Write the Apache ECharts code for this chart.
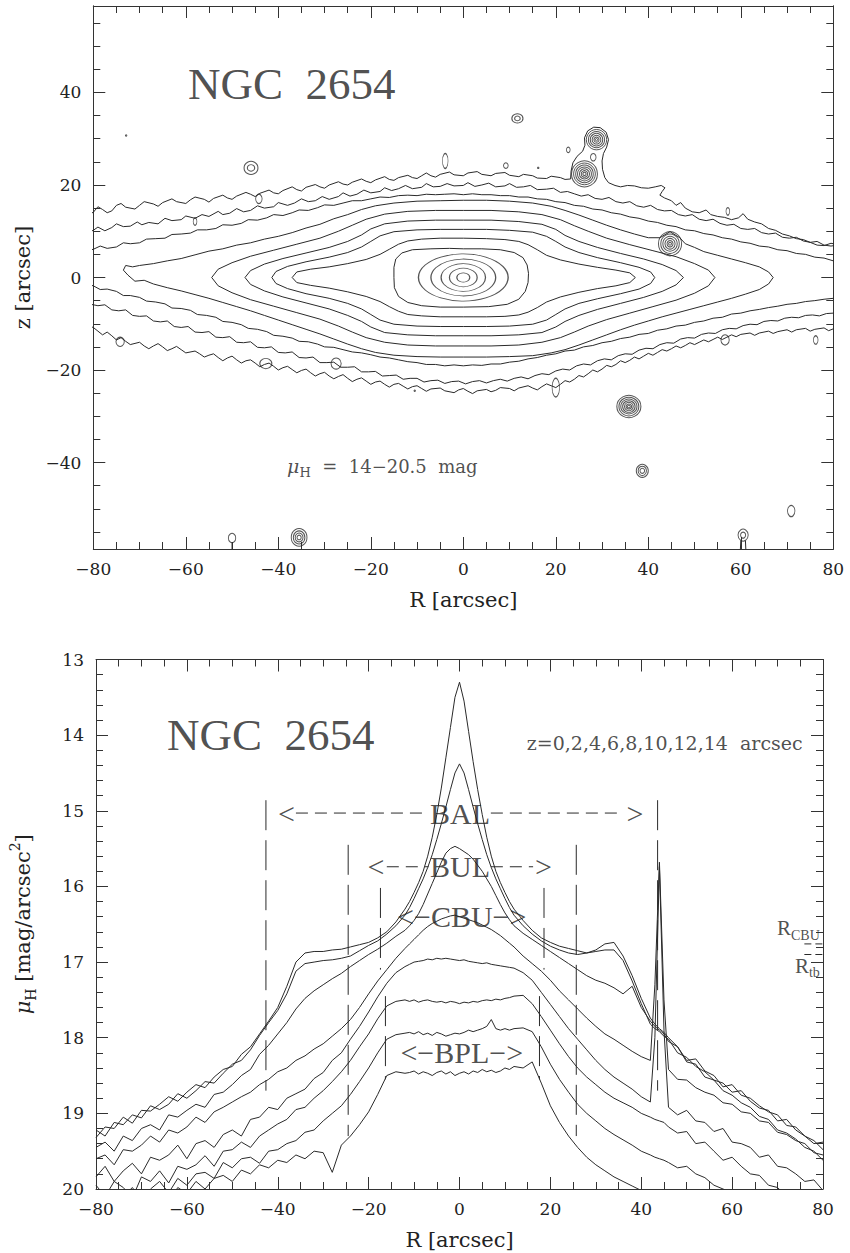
<!DOCTYPE html>
<html><head><meta charset="utf-8">
<script src="https://cdn.jsdelivr.net/npm/echarts@6/dist/echarts.min.js"></script>
<style>html,body{margin:0;padding:0;background:#fff}#c{width:850px;height:1253px}</style>
</head><body><div id="c"></div>
<script>
// ---------------- TOP PANEL: isophote contours (R, z in arcsec) ----------------
const zMajor = [-40,-20,0,20,40];
const zMinor = [-55,-50,-45,-35,-30,-25,-15,-10,-5,5,10,15,25,30,35,45,50,55];

// central rings and stars: [R, z, semi-axis R, semi-axis z]
const ringsCentral = [[0,0,1.4,1.0],[0,0,3.0,2.0],[0,0,4.8,3.0],[0,0,7.0,4.0],[0,0,9.7,5.1]];
const starRings = [
 [26.2,22.4,2.8,2.8],[26.2,22.4,2.35,2.35],[26.2,22.4,1.9,1.9],[26.2,22.4,1.5,1.5],[26.2,22.4,1.1,1.1],[26.2,22.4,0.7,0.7],[26.2,22.4,0.35,0.35],
 [28.8,29.8,2.2,2.2],[28.8,29.8,1.75,1.75],[28.8,29.8,1.35,1.35],[28.8,29.8,0.95,0.95],[28.8,29.8,0.55,0.55],[28.8,29.8,0.25,0.25],
 [28.1,26.0,0.6,0.8],
 [44.7,7.3,2.5,2.6],[44.7,7.3,2.0,2.1],[44.7,7.3,1.55,1.6],[44.7,7.3,1.1,1.15],[44.7,7.3,0.65,0.7],[44.7,7.3,0.3,0.3],
 [35.8,-27.9,2.6,2.4],[35.8,-27.9,2.15,2.0],[35.8,-27.9,1.75,1.6],[35.8,-27.9,1.35,1.25],[35.8,-27.9,0.95,0.9],[35.8,-27.9,0.6,0.55],[35.8,-27.9,0.3,0.3],
 [38.7,-41.8,1.3,1.4],[38.7,-41.8,0.9,1.0],[38.7,-41.8,0.5,0.55],
 [-35.5,-56.2,1.7,1.9],[-35.5,-56.2,1.25,1.4],[-35.5,-56.2,0.85,0.95],[-35.5,-56.2,0.45,0.5],
 [-50,-56.3,0.8,1.0],
 [60.5,-55.7,1.1,1.3],[60.5,-55.7,0.55,0.65],
 [70.9,-50.5,0.8,1.2],
 [-45.9,23.7,1.5,1.4],[-45.9,23.7,0.8,0.7],
 [11.7,34.4,1.2,1.0],[11.7,34.4,0.6,0.5],
 [-3.9,25.2,0.6,1.6],[9.2,24.2,0.5,0.6],[22.7,27.6,0.4,0.6],[57.2,14.3,0.4,0.8],[-44.2,17.0,0.7,1.0],
 [-58,12.1,0.4,0.8],[-74.2,-13.9,0.9,1.0],[-42.7,-18.6,1.3,1.1],[-27.5,-18.6,1.1,1.2],[20.0,-23.8,0.8,2.0],
 [56.6,-13.5,0.9,1.1],[76.2,-13.5,0.5,0.9],[-72.9,30.7,0.15,0.15],[16.2,23.7,0.15,0.15],[-10.5,-24.5,0.15,0.15]
];
const tailG = [[-50,-57.3],[-50,-59]];
const tailH1 = [[60.0,-56.9],[59.9,-59]];
const tailH2 = [[61.0,-56.9],[61.1,-59]];

const L165 = [[-15,0],[-15,2.2],[-14.6,4.0],[-13.3,5.3],[-11,6.0],[-7,6.2],[-3,6.3],[0,6.2],[4,6.2],[8,6.0],[11,5.4],[12.9,4.3],[13.8,2.7],[14.1,0.9],[14,-1.1],[13.4,-3.0],[12,-4.7],[9.5,-5.8],[5.5,-6.3],[0,-6.4],[-5,-6.4],[-9,-6.1],[-12,-5.4],[-14,-4.1],[-14.9,-2.2],[-15,0]];
const L170 = [[-37,0],[-36,1.2],[-33,1.8],[-29,2.3],[-25,3.0],[-21,3.9],[-18,5.0],[-16,6.1],[-14,7.2],[-12,7.9],[-9,8.3],[-5,8.5],[0,8.5],[5,8.4],[9,8.2],[12,7.8],[14,7.1],[16,6.0],[18,4.8],[21,3.8],[25,2.9],[29,2.2],[33,1.6],[36,1.0],[37.2,0],[36,-1.1],[33,-1.8],[29,-2.4],[25,-3.2],[21,-4.2],[18,-5.3],[16,-6.5],[14,-7.5],[12,-8.1],[9,-8.4],[5,-8.5],[0,-8.5],[-5,-8.5],[-9,-8.3],[-12,-8.0],[-14,-7.3],[-16,-6.3],[-18,-5.2],[-21,-4.1],[-25,-3.1],[-29,-2.3],[-33,-1.7],[-36,-1.1],[-37,0]];
const L175 = [[-41.4,0],[-40.5,1.3],[-38,2.4],[-34,3.4],[-29,4.4],[-25,5.4],[-22,6.6],[-20,7.8],[-18,9.0],[-15,9.9],[-10,10.3],[-5,10.4],[0,10.4],[5,10.4],[10,10.2],[15,9.8],[18,8.9],[20,7.8],[22,6.6],[25,5.4],[29,4.3],[34,3.2],[38,2.2],[40.5,1.2],[41.4,0],[40.5,-1.3],[38,-2.5],[34,-3.5],[29,-4.6],[25,-5.6],[22,-6.8],[20,-8.0],[18,-9.2],[15,-10.1],[10,-10.5],[5,-10.6],[0,-10.6],[-5,-10.6],[-10,-10.5],[-15,-10.1],[-18,-9.2],[-20,-8.0],[-22,-6.8],[-25,-5.6],[-29,-4.5],[-34,-3.5],[-38,-2.4],[-40.5,-1.3],[-41.4,0]];
const L180 = [[-47.2,0],[-46,1.5],[-43,2.9],[-39,4.1],[-34,5.3],[-29,6.5],[-25,7.8],[-22,9.2],[-20,10.5],[-17,11.6],[-12,12.2],[-6,12.4],[0,12.4],[6,12.4],[12,12.1],[17,11.5],[20,10.4],[22,9.1],[25,7.8],[29,6.5],[34,5.2],[39,4.0],[43,2.8],[46,1.5],[47.6,0],[46,-1.6],[43,-3.0],[39,-4.3],[34,-5.6],[29,-6.9],[25,-8.2],[22,-9.5],[20,-10.7],[17,-11.9],[12,-12.4],[6,-12.6],[0,-12.6],[-6,-12.6],[-12,-12.4],[-17,-11.9],[-20,-10.7],[-22,-9.5],[-25,-8.2],[-29,-6.8],[-34,-5.5],[-39,-4.2],[-43,-2.9],[-46,-1.5],[-47.2,0]];
const L185 = [[-54.4,0],[-53,1.8],[-50,3.2],[-46,4.6],[-41,5.9],[-36,7.2],[-31,8.5],[-27,10.0],[-24,11.3],[-21,12.6],[-17,13.7],[-12,14.3],[-6,14.5],[0,14.5],[6,14.5],[12,14.2],[17,13.6],[21,12.5],[24,11.2],[27,10.0],[31,8.5],[36,7.1],[41,5.8],[46,4.5],[50,3.0],[53,1.6],[54.4,0],[53,-1.8],[50,-3.4],[46,-4.9],[41,-6.3],[36,-7.7],[31,-9.1],[27,-10.5],[24,-11.8],[21,-13.0],[17,-14.0],[12,-14.6],[6,-14.8],[0,-14.8],[-6,-14.8],[-12,-14.6],[-17,-14.0],[-21,-13.0],[-24,-11.8],[-27,-10.5],[-31,-9.0],[-36,-7.6],[-41,-6.2],[-46,-4.8],[-50,-3.3],[-53,-1.8],[-54.4,0]];
const L190 = [[-73,2.6],[-71.5,2.3],[-70,2.6],[-67,3.0],[-64,3.6],[-61,4.1],[-58,4.9],[-55,5.7],[-52,6.2],[-49,7.0],[-46,7.5],[-43,8.3],[-40,8.9],[-37,9.7],[-34,10.7],[-31,11.5],[-28,12.7],[-25,13.6],[-22,14.7],[-19,15.5],[-15,16.1],[-10,16.5],[-5,16.6],[0,16.7],[5,16.7],[10,16.5],[15,16.1],[19,15.4],[22,14.5],[25,13.5],[28,12.4],[31,11.3],[34,10.3],[37,9.4],[40,8.6],[42.5,8.6],[44.7,9.9],[46.8,8.6],[48,7.3],[50,6.5],[52,5.6],[55,4.8],[58,4.0],[61,3.2],[64,2.3],[66,1.2],[67,0],[66,-1.4],[64,-2.6],[61,-3.6],[58,-4.5],[55,-5.3],[52,-6.1],[49,-6.9],[46,-7.7],[43,-8.5],[40,-9.4],[37,-10.3],[34,-11.3],[31,-12.4],[28,-13.5],[25,-14.6],[22,-15.6],[19,-16.3],[15,-16.9],[10,-17.1],[5,-17.2],[0,-17.2],[-5,-17.2],[-10,-17.1],[-15,-16.8],[-19,-16.2],[-22,-15.4],[-25,-14.4],[-28,-13.3],[-31,-12.2],[-34,-11.2],[-37,-10.2],[-40,-9.2],[-43,-8.2],[-46,-7.2],[-49,-6.3],[-52,-5.4],[-55,-4.5],[-58,-3.7],[-61,-2.9],[-64,-2.2],[-67,-1.4],[-69,-0.6],[-71,-0.8],[-72.5,0.5],[-73.5,1.6],[-73,2.6]];
const L195T = [[-82,5.6],[-80,6.1],[-78.5,6.8],[-77,6.3],[-75,6.6],[-73.5,7.5],[-72,7.3],[-70,7.5],[-68.5,8.3],[-66.5,8.4],[-64.5,8.5],[-63,9.3],[-61,9.4],[-59,9.6],[-57.5,10.3],[-55.5,10.3],[-53.5,10.6],[-52,11.4],[-50,11.3],[-48,11.7],[-46.5,12.5],[-44.5,12.4],[-42.5,12.9],[-41,13.6],[-39,13.4],[-37,14.0],[-35.5,14.6],[-33.5,14.5],[-31.5,15.1],[-30,15.7],[-28,15.6],[-26,16.1],[-24,16.6],[-22,16.6],[-20,17.0],[-18,17.4],[-16,17.3],[-14,17.7],[-12,17.8],[-10,17.7],[-8,18.0],[-6,17.9],[-4,18.0],[-2,18.1],[0,17.9],[2,18.1],[4,17.9],[6,17.9],[8,17.7],[10,17.7],[12,17.4],[14,17.4],[16,17.0],[18,16.9],[20,16.4],[22,16.2],[24,15.6],[26,15.4],[28,14.8],[30,14.6],[32,14.0],[34,13.7],[36,13.1],[38,12.8],[40,12.2],[42,11.9],[44,11.3],[46,11.0],[48,10.3],[50,10.1],[52,9.5],[54,9.2],[56,8.6],[58,8.3],[60,7.7],[62,7.4],[64,6.8],[66,6.6],[68,6.0],[70,5.8],[72,5.2],[74,5.0],[76,4.4],[78,4.2],[80,3.6],[82,3.3]];
const L195B = [[-82,-1.3],[-80,-1.8],[-78.5,-2.6],[-77,-2.5],[-75,-3.0],[-73.5,-3.9],[-72,-3.9],[-70,-4.3],[-68.5,-5.1],[-66.5,-5.3],[-64.5,-5.7],[-63,-6.6],[-61,-6.7],[-59,-7.1],[-57.5,-8.0],[-55.5,-8.2],[-53.5,-8.6],[-52,-9.5],[-50,-9.7],[-48,-10.2],[-46.5,-11.0],[-44.5,-11.2],[-42.5,-11.7],[-41,-12.5],[-39,-12.7],[-37,-13.1],[-35.5,-13.8],[-33.5,-13.9],[-31.5,-14.4],[-30,-15.0],[-28,-15.1],[-26,-15.6],[-24,-16.1],[-22,-16.3],[-20,-16.7],[-18,-17.2],[-16,-17.4],[-14,-17.8],[-12,-18.2],[-10,-18.4],[-8,-18.8],[-6,-18.8],[-4,-19.1],[-2,-18.9],[0,-19.1],[2,-18.9],[4,-19.0],[6,-18.7],[8,-18.7],[10,-18.3],[12,-18.1],[14,-17.6],[16,-17.3],[18,-16.8],[20,-16.5],[22,-15.9],[24,-15.7],[26,-15.0],[28,-14.7],[30,-14.1],[32,-13.8],[34,-13.2],[36,-12.9],[38,-12.3],[40,-12.1],[42,-11.4],[44,-11.1],[46,-10.5],[48,-10.3],[50,-9.7],[52,-9.4],[54,-8.8],[56,-8.6],[58,-7.9],[60,-7.7],[62,-7.2],[64,-6.9],[66,-6.5],[68,-6.2],[70,-5.8],[72,-5.6],[74,-5.2],[76,-5.0],[78,-4.7],[80,-4.5],[82,-4.2]];
const L200T = [[-82,9.4],[-80,10.2],[-79,10.9],[-77.5,10.1],[-76,10.8],[-75,11.6],[-73.5,11.0],[-72,11.1],[-70.5,12.0],[-69.5,11.4],[-68,11.9],[-66,11.6],[-64.5,12.8],[-63,12.3],[-61,12.5],[-60,13.3],[-58,12.8],[-56.5,13.6],[-55,13.2],[-53,14.3],[-52,13.6],[-50.5,13.9],[-49,14.9],[-47.5,14.2],[-46,14.5],[-44.5,15.5],[-43,15.0],[-41,15.3],[-40,16.2],[-38,15.6],[-36.5,16.1],[-35,17.0],[-33.5,16.4],[-32,16.6],[-30.5,17.5],[-29,16.9],[-27,17.5],[-26,18.3],[-24.5,17.6],[-23,18.0],[-21.5,18.9],[-20,18.3],[-18,18.6],[-17,19.4],[-15.5,18.8],[-14,19.2],[-12.5,19.9],[-11,19.2],[-9,19.5],[-8,20.3],[-6.5,19.6],[-5,19.7],[-3.5,20.3],[-2,19.8],[0,19.9],[1,20.5],[2.5,19.7],[4,20.0],[5.5,20.4],[7,19.6],[9,19.8],[10,20.3],[11.5,19.5],[13,19.6],[14.5,19.9],[16,19.0],[18,19.1],[19.5,19.3],[21,18.4],[22.5,18.6],[24,18.1],[25.5,17.6],[27,17.9],[28.5,17.1],[30,16.9],[31.5,17.3],[33,16.4],[34.5,16.1],[36,16.4],[37.5,15.5],[39,15.2],[40.5,15.6],[42,14.7],[43.5,14.4],[45,14.5],[46.5,13.6],[48,13.3],[49.5,13.6],[51,12.6],[52.5,12.3],[54,12.6],[55.5,11.7],[57,11.3],[58.5,11.5],[60,10.6],[61.5,10.4],[63,10.6],[64.5,9.7],[66,9.4],[67.5,9.6],[69,8.7],[70.5,8.5],[72,8.7],[73.5,7.9],[75,7.6],[76.5,7.8],[78,7.0],[79.5,6.8],[81,7.0],[82,6.5]];
const L200B = [[-82,-5.0],[-80.5,-5.8],[-79,-6.1],[-77.5,-5.9],[-76,-7.0],[-74.5,-7.2],[-73,-7.0],[-71.5,-8.2],[-70,-8.4],[-68.5,-8.3],[-67,-9.4],[-65.5,-9.6],[-64,-9.4],[-62.5,-10.6],[-61,-10.8],[-59.5,-10.6],[-58,-11.8],[-56.5,-11.9],[-55,-11.7],[-53.5,-12.9],[-52,-13.0],[-50.5,-12.8],[-49,-14.0],[-47.5,-14.1],[-46,-13.9],[-44.5,-15.1],[-43,-15.2],[-41.5,-15.0],[-40,-16.2],[-38.5,-16.3],[-37,-16.1],[-35.5,-17.3],[-34,-17.4],[-32.5,-17.2],[-31,-18.4],[-29.5,-18.4],[-28,-18.3],[-26.5,-19.4],[-25,-19.4],[-23.5,-19.3],[-22,-20.4],[-20.5,-20.4],[-19,-20.3],[-17.5,-21.3],[-16,-21.2],[-14.5,-21.1],[-13,-22.0],[-11.5,-21.8],[-10,-21.8],[-8.5,-22.6],[-7,-22.3],[-5.5,-22.2],[-4,-22.9],[-2.5,-22.5],[-1,-22.4],[0.5,-23.0],[2,-22.5],[3.5,-22.3],[5,-22.8],[6.5,-22.3],[8,-22.0],[9.5,-22.4],[11,-21.8],[12.5,-21.5],[14,-21.9],[15.5,-21.2],[17,-20.8],[18.5,-21.0],[20,-20.2],[21.5,-19.8],[23,-20.0],[24.5,-19.1],[26,-18.7],[27.5,-18.9],[29,-18.0],[30.5,-17.6],[32,-17.8],[33.5,-16.9],[35,-16.5],[36.5,-16.6],[38,-15.7],[39.5,-15.3],[41,-15.4],[42.5,-14.5],[44,-14.1],[45.5,-14.2],[47,-13.3],[48.5,-13.0],[50,-13.1],[51.5,-12.3],[53,-12.0],[54.5,-12.1],[56,-11.3],[57.5,-11.0],[59,-11.1],[60.5,-10.4],[62,-10.1],[63.5,-10.2],[65,-9.5],[66.5,-9.3],[68,-9.4],[69.5,-8.8],[71,-8.6],[72.5,-8.7],[74,-8.2],[75.5,-8.1],[77,-8.3],[78.5,-7.8],[80,-7.7],[82,-7.9]];
const L205T = [[-82,13.2],[-80,14.1],[-79,15.3],[-78,14.7],[-77,14.0],[-76,14.4],[-75,15.6],[-74,16.0],[-73,15.2],[-71,14.8],[-70,15.6],[-69,16.4],[-67,15.9],[-66,15.4],[-65,16.2],[-63,17.0],[-62,16.4],[-60,16.0],[-59,16.8],[-58,17.4],[-56,16.9],[-55,16.3],[-54,17.1],[-52,17.8],[-51,17.2],[-50,16.9],[-49,17.6],[-47,18.4],[-46,18.0],[-45,17.5],[-44,18.2],[-42,18.9],[-41,18.3],[-40,18.1],[-39,18.8],[-37,19.6],[-36,19.0],[-35,18.7],[-34,19.5],[-32,20.1],[-31,19.6],[-30,19.3],[-29,20.0],[-27,20.7],[-26,20.2],[-25,20.0],[-24,20.6],[-22,21.3],[-21,20.8],[-20,20.5],[-19,21.1],[-17,21.8],[-16,21.2],[-15,21.0],[-14,21.6],[-12,22.1],[-11,21.6],[-10,21.4],[-9,22.0],[-8,22.6],[-7,22.0],[-6,21.7],[-5,22.3],[-3,22.8],[-2,22.2],[0,22.0],[1,22.6],[3,22.9],[4,22.3],[6,22.0],[7,22.5],[9,22.7],[10,22.1],[12,21.8],[13,22.3],[15,22.0],[16,21.5],[18,21.4],[19,21.9],[21,21.6],[22,21.2],[23.2,21.3],[23.3,23.0],[23.7,24.8],[24.6,26.2],[25.8,27.3],[26.3,28.6],[26.2,30.2],[26.9,31.7],[28.2,32.5],[29.6,32.4],[30.9,31.4],[31.4,29.8],[31.0,28.2],[30.3,26.8],[30.0,25.2],[30.1,23.4],[30.6,21.6],[31.4,20.5],[32.8,19.9],[34.0,19.6],[35.5,19.9],[37.0,19.8],[38.5,19.4],[40.0,19.3],[41.5,19.6],[42.8,19.9],[43.6,19.4],[43.0,18.6],[42.5,17.8],[43.5,17.2],[45,16.6],[46,15.6],[47,16.2],[48,15.0],[49.5,14.2],[51,14.0],[52.5,14.6],[53.5,13.6],[55,13.2],[56.5,13.0],[58,12.5],[59.5,12.9],[60.5,13.8],[61.5,12.6],[63,12.0],[64.5,11.6],[66,10.6],[67.5,10.2],[69,9.4],[70.5,9.0],[72,8.4],[73.5,8.2],[75,7.6],[76.5,7.0],[78,6.9],[79.5,7.4],[80.5,7.2],[82,6.9]];
const L205B = [[-82,-10.2],[-80,-10.8],[-79,-11.6],[-78,-12.4],[-77,-11.8],[-76,-12.6],[-75,-13.5],[-74,-13.0],[-73,-13.8],[-72,-14.5],[-70,-14.0],[-69,-14.8],[-68,-15.4],[-67,-14.8],[-66,-14.3],[-65,-15.0],[-64,-15.8],[-63,-15.4],[-62,-14.9],[-61,-15.6],[-60,-16.3],[-58,-15.9],[-57,-16.5],[-56,-17.2],[-55,-16.8],[-54,-16.5],[-53,-17.3],[-52,-18.0],[-51,-17.4],[-50,-17.0],[-49,-17.8],[-48,-18.5],[-47,-18.0],[-46,-17.8],[-45,-18.5],[-44,-19.3],[-43,-18.8],[-42,-18.5],[-41,-19.2],[-40,-20.0],[-39,-19.5],[-38,-19.2],[-37,-19.9],[-36,-20.6],[-35,-20.1],[-34,-19.8],[-33,-20.6],[-32,-21.3],[-31,-20.8],[-30,-20.5],[-29,-21.3],[-28,-21.9],[-27,-21.4],[-26,-21.0],[-25,-21.8],[-24,-22.5],[-23,-22.0],[-22,-21.7],[-21,-22.4],[-20,-23.1],[-19,-22.6],[-18,-22.4],[-17,-23.1],[-16,-23.7],[-15,-23.1],[-14,-22.9],[-13,-23.5],[-12,-24.1],[-11,-23.6],[-10,-23.4],[-9,-24.0],[-8,-24.6],[-7,-24.1],[-5,-23.9],[-4,-24.5],[-2,-24.9],[-1,-24.3],[0,-24.0],[1,-24.6],[2,-25.1],[3,-24.5],[5,-24.2],[6,-24.7],[7,-24.4],[8,-23.8],[10,-24.0],[11,-24.5],[12,-23.9],[14,-23.4],[15,-23.9],[16,-24.3],[17,-23.6],[18,-23.0],[19,-23.4],[20,-23.8],[21,-23.1],[22,-22.3],[23,-22.6],[24,-22.0],[25,-21.2],[26,-21.5],[27,-20.8],[28,-20.0],[29,-20.4],[30,-19.8],[31,-19.0],[32,-19.3],[33,-18.8],[34,-18.0],[35,-18.4],[36,-17.9],[37,-17.2],[38,-17.6],[39,-17.0],[40,-16.4],[41,-16.8],[42,-16.2],[43,-15.6],[44,-15.9],[45,-15.4],[46,-14.8],[47,-15.2],[48,-14.7],[49,-14.1],[50,-14.5],[51,-14.0],[52,-13.5],[53,-13.9],[54,-13.4],[55,-12.9],[56,-13.4],[57,-12.9],[58,-12.4],[59,-12.8],[60,-12.3],[62,-12.0],[63,-12.5],[64,-12.0],[66,-11.6],[67,-12.1],[68,-11.7],[70,-11.3],[71,-11.8],[72,-11.3],[74,-11.0],[75,-11.6],[76,-11.2],[78,-10.9],[79,-11.5],[80,-11.1],[82,-10.8]];

// ---------------- BOTTOM PANEL: major-axis profiles mu_H(R) at z = 0..14 ----------------
const rGrid = [-80,-78,-76,-74,-72,-70,-68,-66,-64,-62,-60,-58,-56,-54,-52,-50,-48,-46,-44,-42,-40,-38,-36,-34,-32,-30,-28,-26,-24,-22,-20,-18,-16,-14,-12,
 -11,-10,-9,-8,-7,-6,-5,-4,-3,-2,-1,0,1,2,3,4,5,6,7,8,9,10,11,
 12,14,16,18,20,22,24,26,28,30,32,34,36,38,40,42,
 43,44,45,
 46,48,50,52,54,56,58,60,62,64,66,68,70,72,74,76,78,80];
const muZ0 = [19.32,19.18,19.2,19.05,19.13,18.96,18.97,18.88,18.78,18.84,18.72,18.62,18.66,18.52,18.42,18.38,18.22,18.12,17.95,17.78,17.6,17.32,17.0,16.88,16.86,16.86,16.84,16.83,16.8,16.77,16.74,16.68,16.6,16.47,16.3,
 16.2,16.08,15.95,15.8,15.6,15.35,15.05,14.7,14.3,13.9,13.5,13.3,13.55,13.95,14.35,14.72,15.05,15.35,15.6,15.8,15.95,16.08,16.2,
 16.3,16.45,16.58,16.68,16.74,16.79,16.82,16.85,16.88,16.86,16.84,16.84,16.98,17.25,17.55,17.82,
 17.88,17.92,17.98,
 18.02,18.2,18.26,18.38,18.45,18.56,18.6,18.72,18.7,18.84,18.93,18.96,19.1,19.08,19.22,19.3,19.36,19.48];
const muZ2 = [19.22,19.3,19.12,19.15,19.02,19.06,18.9,18.95,18.88,18.74,18.8,18.7,18.58,18.6,18.47,18.35,18.3,18.16,17.97,17.8,17.64,17.42,17.12,17.02,17.0,16.98,16.97,16.95,16.92,16.85,16.78,16.72,16.63,16.52,16.38,
 16.28,16.16,16.03,15.9,15.75,15.58,15.38,15.17,14.95,14.72,14.5,14.38,14.5,14.72,14.95,15.17,15.38,15.58,15.75,15.9,16.03,16.16,16.28,
 16.38,16.52,16.63,16.72,16.79,16.84,16.88,16.9,16.88,16.84,16.76,16.74,16.92,17.18,17.48,17.74,
 17.82,17.88,17.93,
 18.0,18.12,18.3,18.28,18.44,18.5,18.65,18.62,18.76,18.8,18.9,18.98,19.02,19.16,19.18,19.3,19.4,19.38];
const muZ4 = [19.45,19.38,19.5,19.3,19.36,19.2,19.15,19.22,19.02,19.05,18.96,18.88,18.92,18.75,18.72,18.62,18.5,18.42,18.22,18.1,17.95,17.8,17.62,17.48,17.38,17.3,17.22,17.15,17.06,16.98,16.9,16.83,16.75,16.66,16.58,
 16.52,16.45,16.36,16.24,16.1,15.96,15.82,15.68,15.56,15.5,15.47,15.5,15.54,15.58,15.64,15.72,15.8,15.9,16.0,16.12,16.24,16.35,16.44,
 16.52,16.62,16.7,16.78,16.86,16.94,17.02,17.1,17.18,17.24,17.28,17.34,17.42,17.32,17.6,17.78,
 17.85,17.9,17.95,
 18.05,18.12,18.32,18.35,18.52,18.56,18.7,18.76,18.86,18.92,19.04,19.08,19.22,19.26,19.34,19.45,19.5,19.62];
const muZ6 = [19.6,19.55,19.68,19.48,19.5,19.42,19.3,19.38,19.22,19.26,19.18,19.05,19.12,18.98,18.92,18.85,18.78,18.72,18.62,18.55,18.45,18.4,18.3,18.24,18.15,18.08,17.98,17.88,17.76,17.6,17.42,17.25,17.1,16.95,16.82,
 16.76,16.7,16.64,16.58,16.53,16.49,16.46,16.43,16.41,16.39,16.38,16.4,16.42,16.44,16.46,16.48,16.51,16.54,16.57,16.61,16.65,16.7,16.75,
 16.8,16.92,17.02,17.12,17.24,17.38,17.5,17.62,17.74,17.85,17.95,18.02,18.1,18.18,18.25,18.3,
 17.3,15.68,17.5,
 18.42,18.55,18.56,18.66,18.72,18.76,18.86,18.88,18.98,19.0,19.1,19.12,19.25,19.28,19.36,19.4,19.52,19.55];
const muZ8 = [19.84,19.7,19.9,19.76,19.66,19.8,19.58,19.62,19.55,19.42,19.6,19.4,19.36,19.45,19.28,19.22,19.3,19.08,19.05,18.92,18.95,18.8,18.74,18.68,18.54,18.46,18.3,18.2,18.02,17.85,17.66,17.46,17.28,17.14,17.06,
 17.03,17.0,16.99,16.98,16.96,16.97,16.95,16.96,16.95,16.96,16.97,16.98,16.97,16.99,17.0,17.01,17.02,17.01,17.03,17.04,17.05,17.06,17.07,
 17.08,17.14,17.24,17.4,17.56,17.72,17.88,18.02,18.16,18.3,18.42,18.52,18.6,18.68,18.78,18.85,
 18.0,15.74,17.9,
 18.92,19.02,18.96,19.1,19.12,19.24,19.2,19.38,19.4,19.45,19.58,19.55,19.7,19.72,19.8,19.9,19.88,20.02];
const muZ10 = [19.95,20.1,19.9,19.98,20.12,19.84,19.9,19.76,19.92,19.7,19.74,19.68,19.56,19.7,19.5,19.48,19.38,19.45,19.3,19.22,19.14,19.08,18.95,18.92,18.8,18.7,18.58,18.45,18.3,18.12,17.95,17.75,17.58,17.52,17.5,
 17.52,17.5,17.53,17.51,17.5,17.52,17.53,17.52,17.54,17.52,17.53,17.55,17.53,17.54,17.52,17.53,17.51,17.5,17.51,17.49,17.5,17.48,17.47,
 17.45,17.44,17.55,17.72,17.9,18.08,18.25,18.4,18.52,18.62,18.72,18.8,18.86,18.92,19.0,19.05,
 19.08,19.1,19.12,
 19.18,19.26,19.24,19.4,19.38,19.5,19.62,19.58,19.7,19.8,19.82,19.95,19.98,20.1,20.08,20.2,20.3,20.3];
const muZ12 = [20.2,20.05,20.25,20.1,19.98,20.15,20.0,19.9,20.05,19.86,19.95,19.8,19.78,19.86,19.65,19.72,19.6,19.58,19.66,19.5,19.48,19.4,19.36,19.25,19.22,19.1,19.0,18.9,18.75,18.58,18.4,18.2,18.02,17.96,17.94,
 17.93,17.95,17.92,17.96,17.94,17.97,17.93,17.95,17.98,17.96,17.94,17.95,17.93,17.9,17.92,17.9,17.88,17.85,17.76,17.88,17.9,17.88,17.9,
 17.88,17.87,17.92,18.12,18.35,18.55,18.72,18.88,19.0,19.1,19.2,19.28,19.35,19.42,19.5,19.55,
 19.58,19.6,19.62,
 19.65,19.72,19.7,19.8,19.85,19.95,20.0,20.05,20.1,20.2,20.25,20.3,20.4,20.45,20.5,20.55,20.6,20.65];
const muZ14 = [20.3,20.45,20.2,20.28,20.15,20.3,20.1,20.05,20.18,19.98,20.06,19.9,20.0,19.86,19.82,19.9,19.75,19.8,19.68,19.72,19.62,19.65,19.55,19.6,19.5,19.52,19.78,19.42,19.3,19.15,18.98,18.75,18.5,18.45,18.47,
 18.46,18.44,18.48,18.45,18.47,18.5,18.46,18.44,18.48,18.45,18.5,18.47,18.45,18.48,18.44,18.46,18.42,18.45,18.43,18.46,18.44,18.4,18.42,
 18.38,18.4,18.32,18.6,18.9,19.12,19.3,19.45,19.58,19.68,19.76,19.84,19.9,19.96,20.02,20.06,
 20.08,20.1,20.12,
 20.15,20.2,20.25,20.3,20.35,20.4,20.45,20.5,20.55,20.6,20.65,20.7,20.75,20.8,20.85,20.9,20.95,21.0];

// region markers (R positions in arcsec, mu range)
const balR = [-42.6, 43.6], balMu = [14.86, 18.7];
const bulR = [-24.5, 25.7], bulMu = [15.45, 19.3];
const cbuR = [-17.4, 18.6], cbuMu = [16.02, 17.1];
const bplR = [-16.3, 17.6], bplMu = [17.45, 18.55];
const balArrowMu = 15.03, bulArrowMu = 15.74, cbuArrowMu = 16.40, bplArrowMu = 18.19;
const balDash = [[-36.0,-6.8],[6.9,36.1]];
const bulDash = [[-16.0,-6.8],[6.9,16.2]];
const rCbuMu = 16.76, rTbMu = 16.9;

// ---------------- build ----------------
const chart = echarts.init(document.getElementById('c'), null, {renderer:'svg'});
const INK = '#2a2a2a';
const KX = 740/160, KY = 543/117.4;
const fmt = v => (v < 0 ? '\u2212' + Math.abs(v) : String(v));
const SERIF = 'DejaVu Serif';
const TIMES = 'Liberation Serif';

function lineSer(data, xi, yi, extra) {
  return Object.assign({type:'line', data:data, xAxisIndex:xi, yAxisIndex:yi, showSymbol:false, symbol:'none',
    silent:true, animation:false, lineStyle:{color:INK, width:1}}, extra || {});
}
function textSer(items, xi, yi) {
  return {type:'scatter', xAxisIndex:xi, yAxisIndex:yi, symbolSize:1, itemStyle:{color:'rgba(0,0,0,0)'},
    silent:true, animation:false, clip:false, z:5,
    data: items.map(t => ({value:[t[0], t[1]], label:Object.assign({show:true, position:'inside', formatter:t[2],
      color:'#222', fontFamily:SERIF, fontSize:18}, t[3] || {})}))};
}
const tickStyle = {color:'#333', width:1};
function xAx(grid, pos, labels, name) {
  return {type:'value', gridIndex:grid, position:pos, min:-80, max:80, interval:20,
    axisLine:{show:true, onZero:false, lineStyle:tickStyle},
    axisTick:{show:true, inside:true, length:12, lineStyle:tickStyle},
    minorTick:{show:true, splitNumber:4, length:7, lineStyle:tickStyle},
    splitLine:{show:false}, minorSplitLine:{show:false},
    axisLabel:{show:labels, formatter:fmt, fontFamily:SERIF, fontSize:17, color:'#222', margin:11, showMinLabel:true, showMaxLabel:true},
    name: name || '', nameLocation:'middle', nameGap:40,
    nameTextStyle:{fontFamily:SERIF, fontSize:21, color:'#222'}};
}
function zAx(pos, vals, len, labels, name) {
  return {type:'value', gridIndex:0, position:pos, min:-58.7, max:58.7,
    axisLine:{show:true, onZero:false, lineStyle:tickStyle},
    axisTick:{show:true, inside:true, length:len, customValues:vals, lineStyle:tickStyle},
    splitLine:{show:false},
    axisLabel:{show:labels, customValues:vals, formatter:fmt, fontFamily:SERIF, fontSize:17, color:'#222', margin:12},
    name: name || '', nameLocation:'middle', nameGap:60,
    nameTextStyle:{fontFamily:SERIF, fontSize:21, color:'#222'}};
}
function muAx(pos, labels, name) {
  return {type:'value', gridIndex:1, position:pos, inverse:true, min:13, max:20, interval:1,
    axisLine:{show:true, onZero:false, lineStyle:tickStyle},
    axisTick:{show:true, inside:true, length:12, lineStyle:tickStyle},
    minorTick:{show:true, splitNumber:5, length:7, lineStyle:tickStyle},
    splitLine:{show:false}, minorSplitLine:{show:false},
    axisLabel:{show:labels, fontFamily:SERIF, fontSize:17, color:'#222', margin:12},
    name: name || '', nameLocation:'middle', nameGap:58,
    nameTextStyle:{fontFamily:SERIF, fontSize:21, color:'#222',
      rich:{b:{fontFamily:SERIF, fontSize:21, color:'#222', verticalAlign:'middle', lineHeight:30},
            mu:{fontFamily:SERIF, fontSize:21, fontStyle:'italic', color:'#222', verticalAlign:'middle', lineHeight:30},
            sub:{fontFamily:SERIF, fontSize:14, color:'#222', verticalAlign:'bottom', lineHeight:22},
            sup:{fontFamily:SERIF, fontSize:14, color:'#222', verticalAlign:'top', lineHeight:22}}}};
}

const series = [];
[L165, L170, L175, L180, L185, L190, L195T, L195B, L200T, L200B, L205T, L205B, tailG, tailH1, tailH2]
  .forEach(c => series.push(lineSer(c, 0, 0)));
series.push({type:'scatter', xAxisIndex:0, yAxisIndex:0, silent:true, animation:false,
  data: ringsCentral.concat(starRings), symbol:'circle',
  symbolSize: v => [Math.max(1, v[2]*2*KX), Math.max(1, v[3]*2*KY)],
  itemStyle:{color:'rgba(0,0,0,0)', borderColor:INK, borderWidth:1}});
series.push(textSer([
  [-59.5, 41.9, 'NGC\u00a0\u00a02654', {align:'left', fontFamily:TIMES, fontSize:45}],
  [-38.1, -40.8, '{mu|\u03bc}{sub|H}\u00a0\u00a0=\u00a0\u00a014\u221220.5\u00a0\u00a0mag',
    {align:'left', fontSize:18, rich:{mu:{fontFamily:SERIF, fontSize:19, fontStyle:'italic', color:'#222'},
      sub:{fontFamily:SERIF, fontSize:13, color:'#222', verticalAlign:'bottom', lineHeight:26}}}]
], 0, 0));

[muZ0, muZ2, muZ4, muZ6, muZ8, muZ10, muZ12, muZ14].forEach(arr => {
  series.push(lineSer(rGrid.map((r, i) => [r, arr[i]]), 2, 4));
});
const vDash = {lineStyle:{color:INK, width:1, type:[30,10]}};
[[balR, balMu], [bulR, bulMu], [cbuR, cbuMu], [bplR, bplMu]].forEach(p => {
  p[0].forEach(r => series.push(lineSer([[r, p[1][0]], [r, p[1][1]]], 2, 4, vDash)));
});
const hDash = {lineStyle:{color:INK, width:1, type:[12,7]}};
balDash.forEach(d => series.push(lineSer([[d[0], balArrowMu], [d[1], balArrowMu]], 2, 4, hDash)));
bulDash.forEach(d => series.push(lineSer([[d[0], bulArrowMu], [d[1], bulArrowMu]], 2, 4, hDash)));
const sDash = {clip:false, lineStyle:{color:INK, width:1, type:[7,4]}};
series.push(lineSer([[75.9, rCbuMu], [84.9, rCbuMu]], 2, 4, sDash));
series.push(lineSer([[75.9, rTbMu], [84.9, rTbMu]], 2, 4, sDash));
const big = {fontFamily:TIMES, fontSize:30};
series.push(textSer([
  [-64.4, 14.0, 'NGC\u00a0\u00a02654', {align:'left', fontFamily:TIMES, fontSize:45}],
  [14.8, 14.1, 'z=0,2,4,6,8,10,12,14\u00a0\u00a0arcsec', {align:'left', fontSize:19}],
  [-38.1, balArrowMu, '<', big], [0.1, balArrowMu, 'BAL', big], [38.6, balArrowMu, '>', big],
  [-18.4, bulArrowMu, '<', big], [0.1, bulArrowMu, 'BUL', big], [18.5, bulArrowMu, '>', big],
  [0.5, cbuArrowMu, '<\u2212CBU\u2212>', big],
  [0.5, bplArrowMu, '<\u2212BPL\u2212>', big],
  [79.3, 16.55, 'R{s|CBU}', {align:'right', fontFamily:TIMES, fontSize:21, rich:{s:{fontFamily:TIMES, fontSize:14, color:'#222', verticalAlign:'bottom', lineHeight:28}}}],
  [79.3, 17.05, 'R{s|tb}', {align:'right', fontFamily:TIMES, fontSize:21, rich:{s:{fontFamily:TIMES, fontSize:14, color:'#222', verticalAlign:'bottom', lineHeight:28}}}]
], 2, 4));

chart.setOption({
  animation:false,
  backgroundColor:'#fff',
  grid:[{left:93.3, top:6, width:740, height:543}, {left:92, top:659.5, width:731, height:529.5}],
  xAxis:[xAx(0,'bottom',true,'R [arcsec]'), xAx(0,'top',false), xAx(1,'bottom',true,'R [arcsec]'), xAx(1,'top',false)],
  yAxis:[zAx('left', zMajor, 12, true, 'z [arcsec]'), zAx('left', zMinor, 7, false), zAx('right', zMajor, 12, false), zAx('right', zMinor, 7, false),
         muAx('left', true, '{mu|\u03bc}{sub|H} {b|[mag/arcsec}{sup|2}{b|]}'), muAx('right', false)],
  series: series
});
</script></body></html>
